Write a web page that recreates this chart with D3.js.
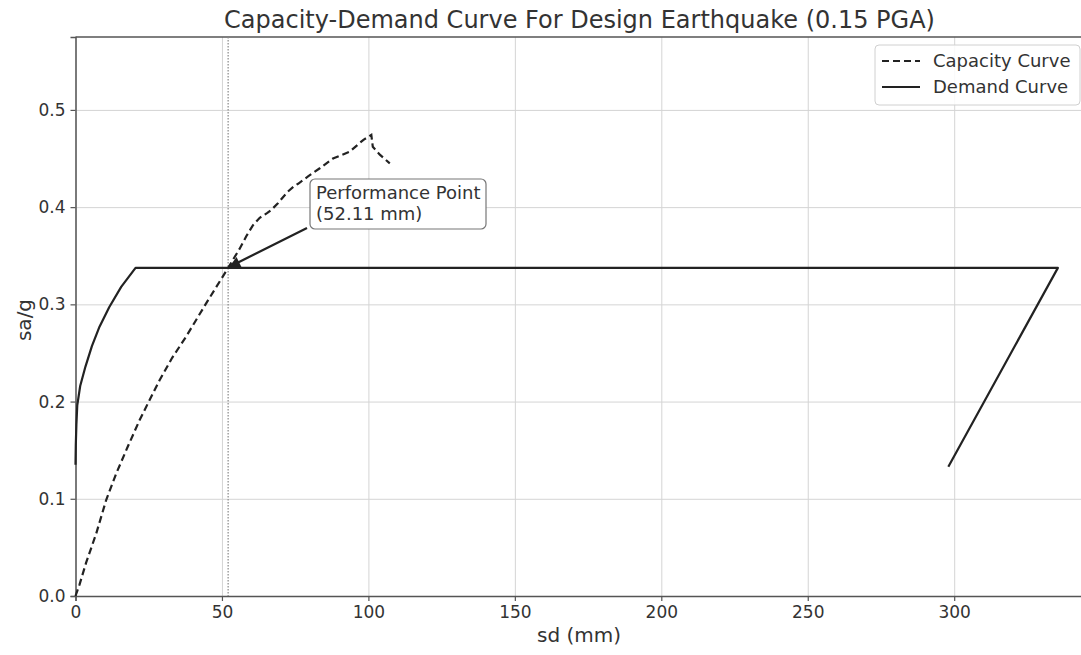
<!DOCTYPE html>
<html><head><meta charset="utf-8">
<script src="https://cdn.jsdelivr.net/npm/d3@7"></script>
<style>
body{margin:0;background:#fff;}
svg{display:block;font-family:"DejaVu Sans",sans-serif;}
</style></head>
<body><svg id="c" width="1081" height="655"></svg>
<script>
// ---- data ----
const capacitySd = [0, 1.4, 3.6, 7.1, 10.5, 13.9, 17.9, 21.9, 24.7, 28.7, 33.0, 37.8, 44.6, 52.1, 56.0, 58.3, 60.5, 62.9, 65.5, 66.8, 69.1, 72.5, 74.8, 76.0, 79.4, 83.4, 87.9, 93.6, 98.2, 101.0, 101.5, 103.9, 107.3];
const capacitySa = [0, 0.012, 0.034, 0.0645, 0.099, 0.126, 0.154, 0.181, 0.198, 0.222, 0.245, 0.267, 0.301, 0.3375, 0.357, 0.370, 0.381, 0.389, 0.394, 0.397, 0.404, 0.416, 0.422, 0.424, 0.4316, 0.440, 0.450, 0.457, 0.469, 0.4743, 0.462, 0.454, 0.445];
const demandSd = [0, 0.1, 0.3, 0.6, 1.6, 3.4, 5.6, 8.2, 11.5, 15.6, 20.5, 335.4, 298.0];
const demandSa = [0.135, 0.155, 0.176, 0.196, 0.216, 0.236, 0.257, 0.277, 0.297, 0.318, 0.3375, 0.3375, 0.133];
const xTicks = [0, 50, 100, 150, 200, 250, 300];
const yTicks = [0.0, 0.1, 0.2, 0.3, 0.4, 0.5];
const perfSd = 52.11, perfSa = 0.3375;
const titleText = "Capacity-Demand Curve For Design Earthquake (0.15 PGA)";
const perfLabel = ["Performance Point", "(52.11 mm)"];
const legendLabels = ["Capacity Curve", "Demand Curve"];

// ---- layout ----
const svg = d3.select("#c");
const L = 75.5, T = 37, R = 1086, B = 596;
const x = d3.scaleLinear().domain([0, 345]).range([L, R]);
const y = d3.scaleLinear().domain([0, 0.575]).range([B, T]);

// grid
svg.append("g").attr("transform", `translate(0,${B})`)
  .call(d3.axisBottom(x).tickValues(xTicks).tickSize(-(B - T)).tickFormat(""))
  .call(g => g.select(".domain").remove())
  .call(g => g.selectAll("line").attr("stroke", "#d4d4d4").attr("stroke-width", 1));
svg.append("g").attr("transform", `translate(${L},0)`)
  .call(d3.axisLeft(y).tickValues(yTicks).tickSize(-(R - L)).tickFormat(""))
  .call(g => g.select(".domain").remove())
  .call(g => g.selectAll("line").attr("stroke", "#d4d4d4").attr("stroke-width", 1));

// axes
const xa = svg.append("g").attr("transform", `translate(0,${B})`)
  .call(d3.axisBottom(x).tickValues(xTicks).tickSize(5).tickPadding(5).tickFormat(d3.format("d")));
const ya = svg.append("g").attr("transform", `translate(${L},0)`)
  .call(d3.axisLeft(y).tickValues(yTicks).tickSize(5).tickPadding(5).tickFormat(d3.format(".1f")));
[xa, ya].forEach(a => {
  a.select(".domain").attr("stroke", "#555").attr("stroke-width", 1.5);
  a.selectAll(".tick line").attr("stroke", "#555").attr("stroke-width", 1.2);
  a.selectAll(".tick text").attr("fill", "#333").style("font-size", "17px").style("font-family", "DejaVu Sans");
});
// top spine
svg.append("line").attr("x1", L).attr("x2", R).attr("y1", T).attr("y2", T)
  .attr("stroke", "#555").attr("stroke-width", 1.5);

// performance vertical dotted
svg.append("line").attr("x1", x(perfSd)).attr("x2", x(perfSd)).attr("y1", T).attr("y2", B)
  .attr("stroke", "#888").attr("stroke-width", 1.2).attr("stroke-dasharray", "1.5,1.5");

const line = d3.line().x(d => x(d[0])).y(d => y(d[1]));
const cap = capacitySd.map((v, i) => [v, capacitySa[i]]);
const dem = demandSd.map((v, i) => [v, demandSa[i]]);

svg.append("path").attr("d", line(dem)).attr("fill", "none")
  .attr("stroke", "#222").attr("stroke-width", 2.2).attr("stroke-linejoin", "round");
svg.append("path").attr("d", line(cap)).attr("fill", "none")
  .attr("stroke", "#222").attr("stroke-width", 2.2).attr("stroke-dasharray", "7,4");

// annotation arrow
const defs = svg.append("defs");
defs.append("marker").attr("id", "ah").attr("viewBox", "0 0 10 10").attr("refX", 10).attr("refY", 5)
  .attr("markerWidth", 18).attr("markerHeight", 11).attr("markerUnits", "userSpaceOnUse").attr("orient", "auto")
  .append("path").attr("d", "M0,0 L10,5 L0,10 Z").attr("fill", "#222");
const bx = 310, by = 179, bw = 176, bh = 50;
svg.append("line").attr("x1", bx - 3).attr("y1", by + bh - 1).attr("x2", x(perfSd) + 1).attr("y2", y(perfSa) - 1)
  .attr("stroke", "#222").attr("stroke-width", 2.2).attr("marker-end", "url(#ah)");
svg.append("rect").attr("x", bx).attr("y", by).attr("width", bw).attr("height", bh).attr("rx", 5)
  .attr("fill", "#fff").attr("stroke", "#777").attr("stroke-width", 1.2);
svg.append("text").attr("x", bx + 6).attr("y", by + 20).attr("fill", "#333").style("font-size", "18px")
  .selectAll("tspan").data(perfLabel).join("tspan").attr("x", bx + 6).attr("dy", (d, i) => i ? 21 : 0).text(d => d);

// title and labels
svg.append("text").attr("x", 579.5).attr("y", 28).attr("text-anchor", "middle")
  .attr("fill", "#333").style("font-size", "24px").text(titleText);
svg.append("text").attr("x", 579).attr("y", 642).attr("text-anchor", "middle")
  .attr("fill", "#333").style("font-size", "20px").text("sd (mm)");
svg.append("text").attr("transform", "translate(31,320) rotate(-90)").attr("text-anchor", "middle")
  .attr("fill", "#333").style("font-size", "20px").text("sa/g");

// legend
const lg = svg.append("g");
lg.append("rect").attr("x", 875).attr("y", 45).attr("width", 205).attr("height", 60).attr("rx", 4)
  .attr("fill", "#fff").attr("fill-opacity", 0.85).attr("stroke", "#d0d0d0").attr("stroke-width", 1);
legendLabels.forEach((t, i) => {
  const yy = 61 + i * 26;
  lg.append("line").attr("x1", 882).attr("x2", 920).attr("y1", yy).attr("y2", yy)
    .attr("stroke", "#222").attr("stroke-width", 2.2).attr("stroke-dasharray", i === 0 ? "7,4" : null);
  lg.append("text").attr("x", 933).attr("y", yy + 6).attr("fill", "#333").style("font-size", "18px").text(t);
});
</script></body></html>
